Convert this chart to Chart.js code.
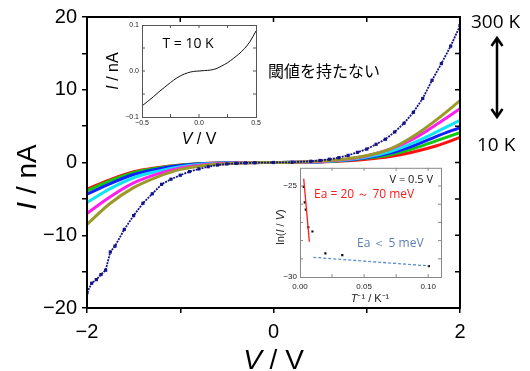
<!DOCTYPE html>
<html>
<head>
<meta charset="utf-8">
<script src="https://cdn.jsdelivr.net/npm/chart.js@4"></script>
<style>
html, body { margin: 0; padding: 0; background: #fff; }
#wrap { position: relative; width: 530px; height: 371px; overflow: hidden; }
canvas { position: absolute; }
</style>
</head>
<body>
<div id="wrap">
  <canvas id="main" width="530" height="371" style="left:0;top:0;width:530px;height:371px"></canvas>
  <canvas id="ins1" width="175" height="135" style="left:95px;top:15px;width:175px;height:135px"></canvas>
  <canvas id="ins2" width="180" height="150" style="left:270px;top:160px;width:180px;height:150px"></canvas>
</div>
<script>
// main I-V curves (V / V, I / nA)
const V = [-2, -1.75, -1.5, -1.25, -1, -0.75, -0.5, -0.25, 0, 0.25, 0.5, 0.75, 1, 1.25, 1.5, 1.75, 2];
const redI     = [-3.66, -2.35, -1.27, -0.72, -0.35, -0.13, -0.04, -0.01, 0, 0.02, 0.08, 0.22, 0.46, 0.83, 1.45, 2.3, 3.44];
const greenI   = [-3.9, -2.5, -1.4, -0.8, -0.38, -0.15, -0.05, -0.01, 0, 0.02, 0.1, 0.28, 0.6, 1.06, 1.9, 3.0, 4.1];
const blueI    = [-4.35, -2.9, -1.65, -0.92, -0.42, -0.15, -0.05, -0.01, 0, 0.02, 0.1, 0.3, 0.65, 1.29, 2.3, 3.6, 4.8];
const cyanI    = [-5.5, -3.6, -2.1, -1.22, -0.58, -0.22, -0.07, -0.02, 0, 0.03, 0.12, 0.35, 0.75, 1.5, 2.7, 4.2, 5.8];
const magentaI = [-7.0, -4.7, -2.8, -1.6, -0.75, -0.3, -0.1, -0.03, 0, 0.04, 0.15, 0.4, 0.9, 1.84, 3.25, 5.25, 7.4];
const oliveI   = [-8.5, -5.6, -3.45, -2.0, -0.95, -0.4, -0.15, -0.04, 0, 0.05, 0.2, 0.45, 0.95, 1.84, 3.6, 5.9, 8.5];
// 300 K curve, read more densely
const navyV = [-2, -1.95, -1.9, -1.85, -1.8, -1.75, -1.7, -1.6, -1.5, -1.4, -1.3, -1.2, -1.1, -1.0, -0.9, -0.8, -0.7, -0.6, -0.5, -0.4, -0.3, -0.2, 0,
               0.2, 0.4, 0.5, 0.6, 0.7, 0.8, 0.9, 1.0, 1.1, 1.2, 1.3, 1.4, 1.5, 1.6, 1.7, 1.8, 1.9, 2.0];
const navyI = [-17.9, -16.6, -16.1, -15.4, -14.8, -12.3, -11.5, -9.2, -7.3, -5.6, -4.3, -3.0, -2.3, -1.75, -1.25, -0.88, -0.58, -0.35, -0.2, -0.12, -0.06, -0.03, 0,
               0.03, 0.17, 0.28, 0.45, 0.66, 0.98, 1.4, 1.85, 2.5, 3.2, 4.2, 5.4, 6.9, 8.8, 11.3, 13.6, 16.0, 18.8];
const xTickLabels = { '-2': '−2', '0': '0', '2': '2' };
const yTickLabels = { '20': '20', '10': '10', '0': '0', '-10': '−10', '-20': '−20' };

// inset 1: T = 10 K
const inV = [-0.5, -0.45, -0.4, -0.35, -0.3, -0.25, -0.2, -0.15, -0.1, -0.05, 0, 0.05, 0.1, 0.15, 0.2, 0.25, 0.3, 0.35, 0.4, 0.45, 0.5];
const inI = [-0.076, -0.066, -0.056, -0.045, -0.035, -0.025, -0.016, -0.009, -0.004, -0.001, 0, 0.001, 0.002, 0.005, 0.011, 0.018, 0.027, 0.037, 0.049, 0.065, 0.087];

// inset 2: Arrhenius plot at V = 0.5 V
const invT = [0.0029, 0.0037, 0.0045, 0.0065, 0.0097, 0.0198, 0.033, 0.1005];
const lnIV = [-25.05, -25.9, -26.3, -27.27, -27.5, -28.7, -28.8, -29.4];
const redFitX = [0.0029, 0.0073], redFitY = [-24.6, -28.06];
const blueFitX = [0.0104, 0.1005], blueFitY = [-28.92, -29.39];

const SANS = '"Liberation Sans", Arial, sans-serif';
const OPEN = '"Open Sans", sans-serif';
const pts = (xs, ys) => xs.map((x, i) => ({ x, y: ys[i] }));
const near = (a, b) => Math.abs(a - b) < 1e-9;

function mixText(ctx, parts, x, y, size, family, align) {
    let w = 0;
    parts.forEach(p => { ctx.font = (p[1] ? 'italic ' : '') + size + 'px ' + family; w += ctx.measureText(p[0]).width; });
    let cx = align === 'center' ? x - w / 2 : (align === 'right' ? x - w : x);
    ctx.textAlign = 'left';
    parts.forEach(p => {
        ctx.font = (p[1] ? 'italic ' : '') + size + 'px ' + family;
        ctx.fillText(p[0], cx, y);
        cx += ctx.measureText(p[0]).width;
    });
}

function boxTicks(chart, xs, ys, len, lw, color, sides) {
    const { ctx, chartArea: a, scales } = chart;
    ctx.save();
    ctx.strokeStyle = color;
    ctx.lineWidth = lw;
    ctx.beginPath();
    xs.forEach(v => {
        const px = scales.x.getPixelForValue(v);
        if (sides.includes('t')) { ctx.moveTo(px, a.top); ctx.lineTo(px, a.top + len); }
        if (sides.includes('b')) { ctx.moveTo(px, a.bottom); ctx.lineTo(px, a.bottom - len); }
    });
    ys.forEach(v => {
        const py = scales.y.getPixelForValue(v);
        if (sides.includes('l')) { ctx.moveTo(a.left, py); ctx.lineTo(a.left + len, py); }
        if (sides.includes('r')) { ctx.moveTo(a.right, py); ctx.lineTo(a.right - len, py); }
    });
    ctx.stroke();
    ctx.restore();
}

// ---------- main chart ----------
const mainDecor = {
    id: 'mainDecor',
    afterDraw(chart) {
        const { ctx, chartArea: a } = chart;
        ctx.save();
        ctx.strokeStyle = '#000';
        ctx.lineWidth = 2;
        ctx.strokeRect(a.left, a.top, a.right - a.left, a.bottom - a.top);
        ctx.restore();
        boxTicks(chart, [-1, 0, 1], [-15, -10, -5, 0, 5, 10, 15], 5, 1.5, '#000', 'tr');

        ctx.save();
        ctx.fillStyle = '#000';
        ctx.textBaseline = 'alphabetic';
        mixText(ctx, [['V', true], [' / V', false]], (a.left + a.right) / 2, 369, 28, SANS, 'center');
        ctx.translate(36, 177);
        ctx.rotate(-Math.PI / 2);
        mixText(ctx, [['I', true], [' / nA', false]], 0, 0, 28, SANS, 'center');
        ctx.restore();

        ctx.save();
        ctx.fillStyle = '#000';
        ctx.textBaseline = 'alphabetic';
        ctx.font = '19px ' + OPEN;
        ctx.fillText('300 K', 471, 28);
        ctx.fillText('10 K', 477, 151);
        ctx.font = '16px "Noto Sans CJK JP", sans-serif';
        ctx.textBaseline = 'middle';
        ctx.fillText('閾値を持たない', 268, 71);
        // double-headed arrow
        ctx.strokeStyle = '#000';
        ctx.lineWidth = 2.5;
        ctx.beginPath();
        ctx.moveTo(497, 39); ctx.lineTo(497, 116);
        ctx.moveTo(491.5, 46); ctx.lineTo(497, 38); ctx.lineTo(502.5, 46);
        ctx.moveTo(491.5, 109); ctx.lineTo(497, 117); ctx.lineTo(502.5, 109);
        ctx.stroke();
        ctx.restore();
    }
};

const curve = (data, color) => ({
    data, borderColor: color, backgroundColor: color, borderWidth: 3,
    pointRadius: 0, cubicInterpolationMode: 'monotone'
});

new Chart(document.getElementById('main'), {
    type: 'line',
    data: {
        datasets: [
            { data: pts(navyV, navyI), borderColor: '#14148a', backgroundColor: '#14148a', borderWidth: 1.8,
              pointRadius: 1, pointStyle: 'rect', borderDash: [2, 1], tension: 0 },
            curve(pts(V, oliveI), '#9a9a2a'),
            curve(pts(V, magentaI), '#ff1ef0'),
            curve(pts(V, cyanI), '#10e4f4'),
            curve(pts(V, blueI), '#1020ff'),
            curve(pts(V, greenI), '#10c810'),
            curve(pts(V, redI), '#ff1010')
        ]
    },
    options: {
        responsive: false,
        animation: false,
        devicePixelRatio: 1,
        layout: { padding: { top: 16, right: 70, left: 0, bottom: 0 } },
        plugins: { legend: { display: false }, tooltip: { enabled: false } },
        scales: {
            x: {
                type: 'linear', min: -2, max: 2,
                afterFit: s => { s.height = 63; },
                border: { display: false },
                grid: { drawOnChartArea: false, tickLength: 5, color: '#000', lineWidth: 1.5 },
                ticks: { stepSize: 1, padding: 7, color: '#000', font: { family: SANS, size: 20 },
                         maxRotation: 0, callback: v => xTickLabels[String(v)] || '' }
            },
            y: {
                type: 'linear', min: -20, max: 20,
                afterFit: s => { s.width = 87; },
                border: { display: false },
                grid: { drawOnChartArea: false, tickLength: 5, color: '#000', lineWidth: 1.5 },
                ticks: { stepSize: 5, padding: 5, color: '#000', font: { family: SANS, size: 20 },
                         callback: v => yTickLabels[String(v)] || '' }
            }
        }
    },
    plugins: [mainDecor]
});

// ---------- inset 1 ----------
const ins1Decor = {
    id: 'ins1Decor',
    afterDraw(chart) {
        const { ctx, chartArea: a } = chart;
        ctx.save();
        ctx.strokeStyle = '#555';
        ctx.lineWidth = 1;
        ctx.strokeRect(a.left + 0.5, a.top + 0.5, a.right - a.left, a.bottom - a.top);
        ctx.restore();
        boxTicks(chart, [-0.25, 0, 0.25], [-0.05, 0, 0.05], 3, 1, '#555', 'tblr');
        ctx.save();
        ctx.fillStyle = '#000';
        ctx.textBaseline = 'middle';
        ctx.font = '14px ' + OPEN;
        ctx.textAlign = 'center';
        ctx.fillText('T = 10 K', 93, 29);
        ctx.textBaseline = 'alphabetic';
        mixText(ctx, [['V', true], [' / V', false]], 104, 129, 16, SANS, 'center');
        ctx.translate(23, 56);
        ctx.rotate(-Math.PI / 2);
        mixText(ctx, [['I', true], [' / nA', false]], 0, 0, 16, SANS, 'center');
        ctx.restore();
    }
};

const insetGrid = { display: false, drawTicks: false, tickLength: 0 };

new Chart(document.getElementById('ins1'), {
    type: 'line',
    data: { datasets: [{ data: pts(inV, inI), borderColor: '#111', borderWidth: 1, pointRadius: 0, cubicInterpolationMode: 'monotone' }] },
    options: {
        responsive: false, animation: false, devicePixelRatio: 1,
        layout: { padding: { top: 10, right: 14, left: 0, bottom: 0 } },
        plugins: { legend: { display: false }, tooltip: { enabled: false } },
        scales: {
            x: {
                type: 'linear', min: -0.5, max: 0.5,
                afterFit: s => { s.height = 33; },
                border: { display: false }, grid: insetGrid,
                ticks: { stepSize: 0.25, padding: 2, color: '#222', maxRotation: 0, font: { family: SANS, size: 7 },
                         callback: v => near(v, -0.5) ? '−0.5' : near(v, 0) ? '0.0' : near(v, 0.5) ? '0.5' : '' }
            },
            y: {
                type: 'linear', min: -0.1, max: 0.1,
                afterFit: s => { s.width = 47; },
                border: { display: false }, grid: insetGrid,
                ticks: { stepSize: 0.05, padding: 3, color: '#222', font: { family: SANS, size: 7 },
                         callback: v => near(v, -0.1) ? '−0.1' : near(v, 0) ? '0.0' : near(v, 0.1) ? '0.1' : '' }
            }
        }
    },
    plugins: [ins1Decor]
});

// ---------- inset 2 ----------
const ins2Decor = {
    id: 'ins2Decor',
    beforeDraw(chart) {
        const { ctx, chartArea: a } = chart;
        ctx.save();
        ctx.fillStyle = '#fff';
        ctx.fillRect(a.left, a.top, a.right - a.left, a.bottom - a.top);
        ctx.restore();
    },
    afterDraw(chart) {
        const { ctx, chartArea: a } = chart;
        ctx.save();
        ctx.strokeStyle = '#888';
        ctx.lineWidth = 1;
        ctx.strokeRect(a.left + 0.5, a.top + 0.5, a.right - a.left, a.bottom - a.top);
        ctx.restore();
        boxTicks(chart, [0.025, 0.05, 0.075, 0.1], [-29, -28, -27, -26, -25], 3, 1, '#888', 'tblr');
        ctx.save();
        ctx.textBaseline = 'middle';
        ctx.fillStyle = '#111';
        ctx.font = '11px ' + OPEN;
        ctx.textAlign = 'right';
        ctx.fillText('V = 0.5 V', 163, 20);
        ctx.textAlign = 'left';
        ctx.fillStyle = '#ff1a1a';
        ctx.font = '12px ' + OPEN;
        ctx.fillText('Ea = 20 ～ 70 meV', 44, 35);
        ctx.fillStyle = '#5b7fb4';
        ctx.fillText('Ea ＜ 5 meV', 87, 84);
        ctx.fillStyle = '#222';
        ctx.textBaseline = 'alphabetic';
        mixText(ctx, [['T', true], ['⁻¹ / K⁻¹', false]], 100, 142, 11, SANS, 'center');
        ctx.translate(14, 67);
        ctx.rotate(-Math.PI / 2);
        mixText(ctx, [['ln(', false], ['I', true], [' / ', false], ['V', true], [')', false]], 0, 0, 11, SANS, 'center');
        ctx.restore();
    }
};

new Chart(document.getElementById('ins2'), {
    type: 'scatter',
    data: {
        datasets: [
            { data: pts(redFitX, redFitY), showLine: true, borderColor: '#ff1a1a', borderWidth: 1.3, pointRadius: 0 },
            { data: pts(blueFitX, blueFitY), showLine: true, borderColor: '#5b8fd0', borderWidth: 1.3, borderDash: [3, 2], pointRadius: 0 },
            { data: pts(invT, lnIV), pointStyle: 'rect', pointRadius: 1.5, backgroundColor: '#000', borderColor: '#000', borderWidth: 0 }
        ]
    },
    options: {
        responsive: false, animation: false, devicePixelRatio: 1,
        layout: { padding: { top: 7, right: 9, left: 0, bottom: 0 } },
        plugins: { legend: { display: false }, tooltip: { enabled: false } },
        scales: {
            x: {
                type: 'linear', min: 0, max: 0.11,
                afterFit: s => { s.height = 33; },
                border: { display: false }, grid: insetGrid,
                ticks: { stepSize: 0.025, includeBounds: false, padding: 5, color: '#222', maxRotation: 0, autoSkip: false,
                         font: { family: SANS, size: 8 },
                         callback: v => near(v, 0) ? '0.00' : near(v, 0.05) ? '0.05' : near(v, 0.1) ? '0.10' : '' }
            },
            y: {
                type: 'linear', min: -30, max: -24,
                afterFit: s => { s.width = 30; },
                border: { display: false }, grid: insetGrid,
                ticks: { stepSize: 1, padding: 3, color: '#222', font: { family: SANS, size: 8 },
                         callback: v => near(v, -25) ? '−25' : near(v, -30) ? '−30' : '' }
            }
        }
    },
    plugins: [ins2Decor]
});
</script>
</body>
</html>
